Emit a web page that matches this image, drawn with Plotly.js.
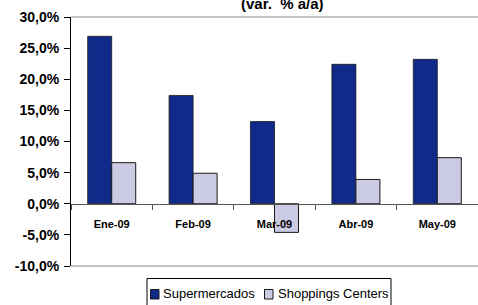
<!DOCTYPE html>
<html><head><meta charset="utf-8">
<script src="https://cdn.plot.ly/plotly-3.0.1.min.js"></script>
<style>html,body{margin:0;padding:0;background:#fff}#c{width:478px;height:305px}</style>
</head><body><div id="c"></div>
<script>
var categories = ["Ene-09","Feb-09","Mar-09","Abr-09","May-09"];
var supermercados = [26.9, 17.4, 13.2, 22.4, 23.2];
var shoppings = [6.6, 4.9, -4.6, 3.9, 7.4];
var seriesNames = ["Supermercados", "Shoppings Centers"];
var yTicks = [-10,-5,0,5,10,15,20,25,30];
var yTickLabels = ["-10,0%","-5,0%","0,0%","5,0%","10,0%","15,0%","20,0%","25,0%","30,0%"];
var titleText = "(var.  % a/a)";

var F = '"Liberation Sans", Arial, sans-serif';
var colors = ['#0F2A88', '#CBCBE3'];
var data = [
  {type:'bar', name:seriesNames[0], x:categories, y:supermercados,
   marker:{color:colors[0], line:{color:'#1a1a1a', width:0.8}}},
  {type:'bar', name:seriesNames[1], x:categories, y:shoppings,
   marker:{color:colors[1], line:{color:'#1a1a1a', width:1}}}
];
// plot area in px: left 71, right 478, top 17, bottom 266
function px(x){ return (x-71)/407; }
function py(y){ return (266-y)/249; }
var shapes = [
  {type:'line', xref:'paper', yref:'paper', x0:0, x1:1, y0:1, y1:1, line:{color:'#888', width:1}},
  {type:'line', xref:'paper', yref:'paper', x0:0, x1:1, y0:0, y1:0, line:{color:'#888', width:1}},
  // legend box and swatches
  {type:'rect', xref:'paper', yref:'paper', x0:px(147), x1:px(391), y0:py(278.5), y1:py(320), line:{color:'#000', width:1}, fillcolor:'rgba(0,0,0,0)'},
  {type:'rect', xref:'paper', yref:'paper', x0:px(150.5), x1:px(159), y0:py(289.5), y1:py(299), line:{color:'#1a1a1a', width:1}, fillcolor:colors[0]},
  {type:'rect', xref:'paper', yref:'paper', x0:px(264.5), x1:px(273), y0:py(289.5), y1:py(299), line:{color:'#1a1a1a', width:1}, fillcolor:colors[1]}
];
var annotations = [
  {text:titleText, xref:'paper', yref:'paper', x:px(282.5), y:1, xanchor:'center', yanchor:'bottom',
   yshift:3, showarrow:false, font:{family:F, size:15, color:'#000', weight:'bold'}},
  {text:seriesNames[0], xref:'paper', yref:'paper', x:px(161), y:py(293), xanchor:'left', yanchor:'middle',
   showarrow:false, font:{family:F, size:13, color:'#000'}},
  {text:seriesNames[1], xref:'paper', yref:'paper', x:px(275.5), y:py(293), xanchor:'left', yanchor:'middle',
   showarrow:false, font:{family:F, size:13, color:'#000'}}
];
var layout = {
  width:478, height:305,
  margin:{l:71, r:0, t:17, b:39},
  paper_bgcolor:'#fff', plot_bgcolor:'#fff',
  barmode:'group', bargap:0.41, bargroupgap:0,
  showlegend:false,
  xaxis:{anchor:'free', position:0.25, showline:true, linecolor:'#555', linewidth:1,
    ticks:'outside', ticklen:5, tickcolor:'#555', tickson:'boundaries',
    tickfont:{family:F, size:11, color:'#000', weight:'bold'}, ticklabelstandoff:10,
    showgrid:false, zeroline:false, fixedrange:true},
  yaxis:{range:[-10,30], tickvals:yTicks, ticktext:yTickLabels, showline:true,
    linecolor:'#000', linewidth:1, ticks:'outside', ticklen:6, tickcolor:'#000',
    tickfont:{family:F, size:14, color:'#000', weight:'bold'}, ticklabelstandoff:2,
    showgrid:false, zeroline:false, fixedrange:true},
  shapes:shapes,
  annotations:annotations
};
Plotly.newPlot('c', data, layout, {displayModeBar:false, staticPlot:true});
</script></body></html>
